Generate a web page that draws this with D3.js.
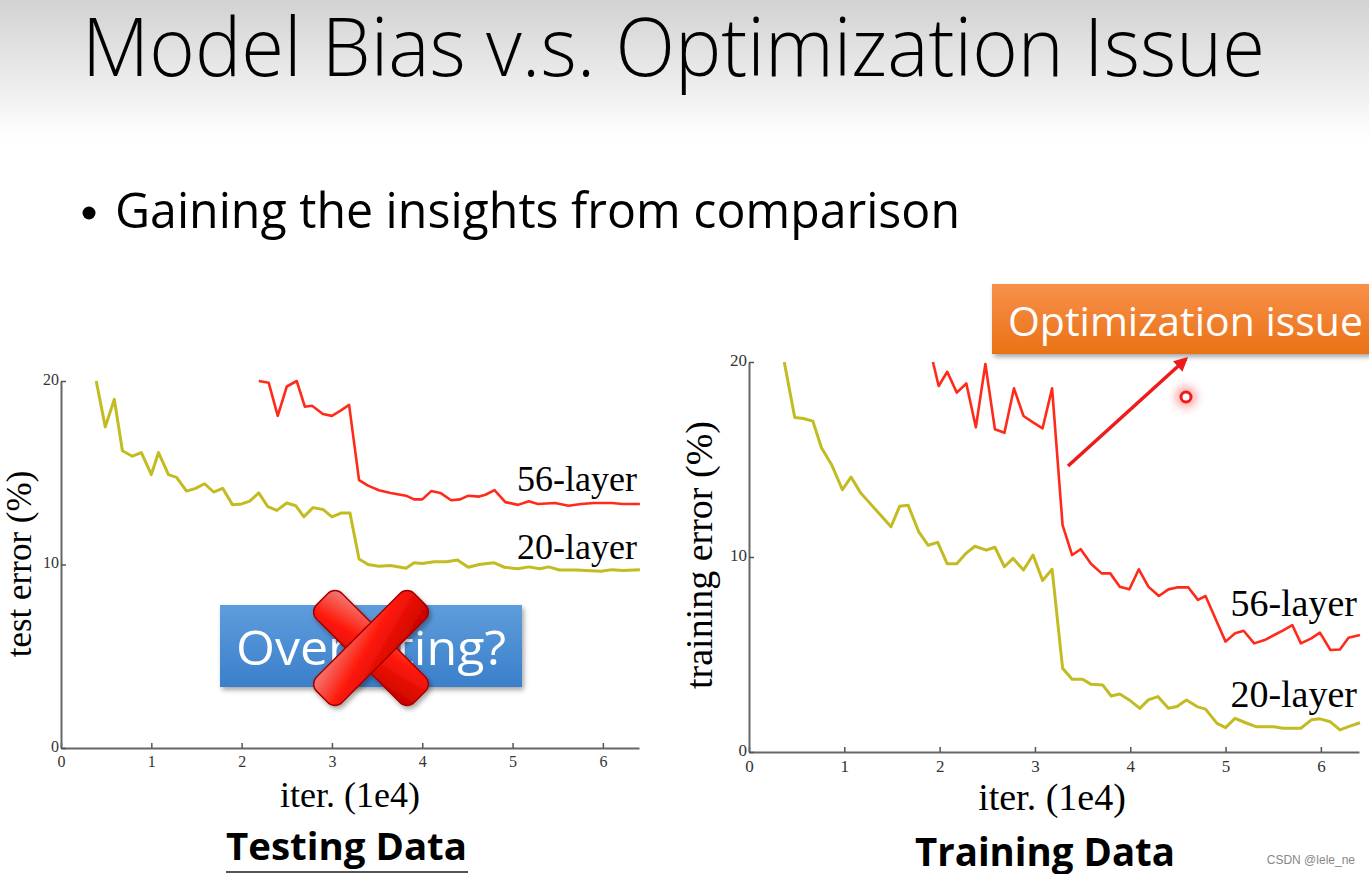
<!DOCTYPE html>
<html>
<head>
<meta charset="utf-8">
<script src="https://cdn.jsdelivr.net/npm/d3@7"></script>
<style>
  html, body { margin: 0; padding: 0; background: #fff; }
  svg { display: block; }
</style>
</head>
<body>
<svg id="chart" width="1369" height="874"></svg>
<script>
// ---------------- DATA ----------------
const titleText = "Model Bias v.s. Optimization Issue";
const bulletText = "Gaining the insights from comparison";
const seriesNames = ["56-layer", "20-layer"];
const xTicks = [0, 1, 2, 3, 4, 5, 6];
const yTicks = [0, 10, 20];

// Testing data (test error %), iterations in 1e4
const testIter20 = [0.39,0.49,0.59,0.68,0.79,0.89,1.0,1.08,1.19,1.28,1.39,1.49,1.59,1.69,1.79,1.9,2.0,2.09,2.19,2.29,2.39,2.5,2.6,2.69,2.79,2.9,3.0,3.1,3.2,3.3,3.4,3.52,3.65,3.82,3.91,4.0,4.13,4.27,4.39,4.51,4.63,4.79,4.91,5.06,5.18,5.3,5.4,5.52,5.71,5.86,5.98,6.1,6.22,6.41];
const testErr20 = [20.0,17.5,19.0,16.2,15.9,16.1,14.9,16.1,14.9,14.75,14.0,14.15,14.4,13.95,14.15,13.25,13.3,13.45,13.9,13.15,12.95,13.35,13.2,12.6,13.1,13.0,12.6,12.8,12.8,10.3,10.0,9.9,9.95,9.8,10.1,10.05,10.15,10.15,10.25,9.85,10.0,10.1,9.85,9.77,9.87,9.77,9.87,9.7,9.7,9.66,9.63,9.72,9.67,9.72];
const testIter56 = [2.19,2.3,2.4,2.5,2.61,2.7,2.78,2.9,3.0,3.1,3.19,3.3,3.4,3.52,3.65,3.82,3.91,4.0,4.1,4.2,4.32,4.42,4.51,4.63,4.7,4.8,4.92,5.06,5.18,5.28,5.47,5.62,5.76,5.9,6.1,6.22,6.41];
const testErr56 = [20.0,19.9,18.1,19.7,20.0,18.6,18.65,18.2,18.1,18.4,18.7,14.6,14.3,14.05,13.9,13.75,13.55,13.55,14.0,13.9,13.5,13.55,13.75,13.7,13.8,14.05,13.4,13.25,13.45,13.3,13.35,13.2,13.3,13.35,13.35,13.3,13.3];

// Training data (training error %)
const trainIter20 = [0.37,0.48,0.57,0.67,0.76,0.87,0.98,1.07,1.17,1.27,1.37,1.49,1.58,1.67,1.78,1.88,1.98,2.08,2.18,2.28,2.37,2.49,2.58,2.68,2.77,2.88,2.98,3.08,3.18,3.29,3.39,3.5,3.59,3.71,3.8,3.89,3.99,4.1,4.19,4.29,4.4,4.49,4.59,4.7,4.79,4.91,5.0,5.1,5.21,5.32,5.51,5.6,5.79,5.9,5.99,6.1,6.2,6.29,6.41];
const trainErr20 = [20.0,17.15,17.1,16.97,15.6,14.7,13.45,14.1,13.3,12.75,12.2,11.55,12.6,12.65,11.3,10.6,10.75,9.65,9.65,10.2,10.55,10.35,10.5,9.5,9.93,9.33,10.1,8.8,9.37,4.3,3.73,3.73,3.47,3.44,2.87,2.97,2.67,2.24,2.67,2.84,2.24,2.33,2.67,2.33,2.2,1.47,1.25,1.73,1.5,1.3,1.3,1.22,1.22,1.65,1.7,1.55,1.13,1.3,1.5];
const trainIter56 = [1.93,1.99,2.08,2.18,2.28,2.38,2.48,2.58,2.68,2.78,2.88,2.98,3.08,3.18,3.29,3.39,3.48,3.59,3.7,3.79,3.89,3.99,4.09,4.19,4.3,4.4,4.49,4.61,4.71,4.79,4.9,5.0,5.1,5.19,5.3,5.41,5.51,5.6,5.7,5.79,5.9,5.99,6.1,6.2,6.29,6.41];
const trainErr56 = [20.0,18.77,19.5,18.43,18.9,16.65,19.9,16.55,16.37,18.65,17.23,16.9,16.6,18.65,11.64,10.1,10.4,9.64,9.16,9.16,8.48,8.34,9.37,8.48,8.0,8.34,8.44,8.44,7.8,8.0,6.77,5.66,6.09,6.22,5.57,5.74,6.0,6.22,6.51,5.57,5.83,6.12,5.23,5.26,5.86,6.0];

// ---------------- DRAWING ----------------
const svg = d3.select("#chart");
const defs = svg.append("defs");

const hdr = defs.append("linearGradient").attr("id","hdr").attr("x1",0).attr("y1",0).attr("x2",0).attr("y2",1);
hdr.append("stop").attr("offset","0%").attr("stop-color","#d2d2d2");
hdr.append("stop").attr("offset","100%").attr("stop-color","#ffffff");

const blue = defs.append("linearGradient").attr("id","blueg").attr("x1",0).attr("y1",0).attr("x2",0).attr("y2",1);
blue.append("stop").attr("offset","0%").attr("stop-color","#5e9ddb");
blue.append("stop").attr("offset","100%").attr("stop-color","#3b7fcb");

const orange = defs.append("linearGradient").attr("id","orangeg").attr("x1",0).attr("y1",0).attr("x2",0).attr("y2",1);
orange.append("stop").attr("offset","0%").attr("stop-color","#f7904a");
orange.append("stop").attr("offset","100%").attr("stop-color","#ea7216");

const redg = defs.append("linearGradient").attr("id","redg").attr("x1",0).attr("y1",0).attr("x2",1).attr("y2",1);
redg.append("stop").attr("offset","0%").attr("stop-color","#f2807a");
redg.append("stop").attr("offset","45%").attr("stop-color","#ff1a0a");
redg.append("stop").attr("offset","100%").attr("stop-color","#c40000");

const shadow = defs.append("filter").attr("id","shadow").attr("x","-10%").attr("y","-10%").attr("width","130%").attr("height","140%");
shadow.append("feDropShadow").attr("dx",2).attr("dy",3).attr("stdDeviation",2.5).attr("flood-color","#000").attr("flood-opacity",0.35);

const glow = defs.append("filter").attr("id","glow").attr("x","-150%").attr("y","-150%").attr("width","400%").attr("height","400%");
glow.append("feGaussianBlur").attr("stdDeviation",4);

defs.append("marker").attr("id","arrowhead").attr("viewBox","0 0 10 10").attr("refX",8).attr("refY",5)
  .attr("markerWidth",4).attr("markerHeight",4).attr("orient","auto")
  .append("path").attr("d","M0,0 L10,5 L0,10 z").attr("fill","#ee1b1b");

// background
svg.append("rect").attr("x",0).attr("y",0).attr("width",1369).attr("height",874).attr("fill","#fff");
svg.append("rect").attr("x",0).attr("y",0).attr("width",1369).attr("height",140).attr("fill","url(#hdr)");

// title
svg.append("text").attr("x",82).attr("y",76).text(titleText)
  .attr("font-family","'Open Sans', 'Noto Sans', sans-serif").attr("font-weight",300)
  .attr("font-size",82).attr("fill","#000")
  .attr("textLength",1183).attr("lengthAdjust","spacingAndGlyphs");

// bullet
svg.append("circle").attr("cx",89).attr("cy",213).attr("r",6.5).attr("fill","#000");
svg.append("text").attr("x",115).attr("y",228).text(bulletText)
  .attr("font-family","'Open Sans', 'Noto Sans', sans-serif").attr("font-weight",400)
  .attr("font-size",50).attr("fill","#000")
  .attr("textLength",845).attr("lengthAdjust","spacingAndGlyphs");

const yellow = "#c3bb22";
const red = "#ff2a1a";
const serif = "'Liberation Serif', 'DejaVu Serif', serif";

function drawChart(cfg) {
  const x = d3.scaleLinear().domain([0, 6.4]).range([cfg.x0, cfg.x1]);
  const y = d3.scaleLinear().domain([0, 20]).range([cfg.y0, cfg.y1]);
  const g = svg.append("g");

  const xa = g.append("g").attr("transform",`translate(0,${cfg.y0})`)
    .call(d3.axisBottom(x).tickValues(xTicks).tickFormat(d3.format("d")).tickSizeInner(-5).tickSizeOuter(0).tickPadding(8));
  const ya = g.append("g").attr("transform",`translate(${cfg.x0},0)`)
    .call(d3.axisLeft(y).tickValues(yTicks).tickFormat(d3.format("d")).tickSizeInner(-5).tickSizeOuter(0).tickPadding(2));
  [xa, ya].forEach(a => {
    a.select(".domain").attr("stroke","#666").attr("stroke-width",2);
    a.selectAll(".tick line").attr("stroke","#555").attr("stroke-width",1.5);
    a.selectAll(".tick text").attr("font-family",serif).attr("font-size",cfg.tickFs).attr("fill","#333");
  });
  xa.selectAll(".tick text").attr("dy","0.71em");
  ya.selectAll(".tick text").attr("dy","0.2em");

  const line = d3.line().x(d => x(d[0])).y(d => y(d[1]));
  const s20 = d3.zip(cfg.iter20, cfg.err20);
  const s56 = d3.zip(cfg.iter56, cfg.err56);
  g.append("path").attr("d", line(s20)).attr("fill","none").attr("stroke",yellow).attr("stroke-width",3).attr("stroke-linejoin","round");
  g.append("path").attr("d", line(s56)).attr("fill","none").attr("stroke",red).attr("stroke-width",2.6).attr("stroke-linejoin","round");

  // series labels
  g.append("text").attr("x", cfg.x1 - 2).attr("y", y(cfg.lab56)).attr("text-anchor","end")
    .attr("font-family",serif).attr("font-size",cfg.fs).attr("fill","#000").text(seriesNames[0]);
  g.append("text").attr("x", cfg.x1 - 2).attr("y", y(cfg.lab20)).attr("text-anchor","end")
    .attr("font-family",serif).attr("font-size",cfg.fs).attr("fill","#000").text(seriesNames[1]);

  // axis titles
  g.append("text").attr("x", (cfg.x0 + cfg.x1) / 2 + cfg.xlabDx).attr("y", cfg.xlabY).attr("text-anchor","middle")
    .attr("font-family",serif).attr("font-size",cfg.fs).attr("fill","#000").text("iter. (1e4)");
  g.append("text").attr("transform",`translate(${cfg.ylabX},${cfg.ylabY}) rotate(-90)`).attr("text-anchor","middle")
    .attr("font-family",serif).attr("font-size",cfg.ylabFs).attr("fill","#000").text(cfg.ylab);
  return {x, y};
}

drawChart({x0:61, x1:639, y0:748, y1:381, iter20:testIter20, err20:testErr20, iter56:testIter56, err56:testErr56,
  lab56:14.0, lab20:10.3, fs:36, ylabFs:35, tickFs:16, xlabDx:0, xlabY:807, ylabX:31, ylabY:564, ylab:"test error (%)"});
drawChart({x0:749, x1:1359, y0:752, y1:362, iter20:trainIter20, err20:trainErr20, iter56:trainIter56, err56:trainErr56,
  lab56:7.0, lab20:2.3, fs:38, ylabFs:38, tickFs:17, xlabDx:-2, xlabY:810, ylabX:712, ylabY:555, ylab:"training error (%)"});

// Overfitting box with red X
svg.append("rect").attr("x",220).attr("y",605).attr("width",302).attr("height",82).attr("fill","url(#blueg)").attr("filter","url(#shadow)");
svg.append("text").attr("x",236).attr("y",665).text("Overfitting?")
  .attr("font-family","'Open Sans', 'Noto Sans', sans-serif").attr("font-size",48).attr("fill","#fff")
  .attr("textLength",270).attr("lengthAdjust","spacingAndGlyphs");
const xg = svg.append("g").attr("transform","translate(371,648)").attr("filter","url(#shadow)");
[45, -45].forEach(a => {
  xg.append("rect").attr("x",-69).attr("y",-18).attr("width",138).attr("height",36).attr("rx",10)
    .attr("transform",`rotate(${a})`).attr("fill","url(#redg)").attr("stroke","#a30000").attr("stroke-width",1.5);
});

// Optimization issue box
svg.append("rect").attr("x",992).attr("y",284).attr("width",390).attr("height",70).attr("fill","url(#orangeg)").attr("filter","url(#shadow)");
svg.append("text").attr("x",1008).attr("y",336).text("Optimization issue")
  .attr("font-family","'Open Sans', 'Noto Sans', sans-serif").attr("font-size",40).attr("fill","#fff")
  .attr("textLength",355).attr("lengthAdjust","spacingAndGlyphs");

// arrow
svg.append("line").attr("x1",1068).attr("y1",466).attr("x2",1186).attr("y2",359)
  .attr("stroke","#ee1b1b").attr("stroke-width",3.5).attr("marker-end","url(#arrowhead)");

// pointer dot
svg.append("circle").attr("cx",1186).attr("cy",397).attr("r",11).attr("fill","#ff6a6a").attr("opacity",0.55).attr("filter","url(#glow)");
svg.append("circle").attr("cx",1186).attr("cy",397).attr("r",5).attr("fill","#fff").attr("stroke","#ee1b1b").attr("stroke-width",3);

// bottom captions
svg.append("text").attr("x",226).attr("y",860).text("Testing Data")
  .attr("font-family","'Open Sans', 'Noto Sans', sans-serif").attr("font-weight",700)
  .attr("font-size",38).attr("fill","#000").attr("textLength",241).attr("lengthAdjust","spacingAndGlyphs");
svg.append("line").attr("x1",226).attr("x2",468).attr("y1",872).attr("y2",872).attr("stroke","#555").attr("stroke-width",2);
svg.append("text").attr("x",915).attr("y",866).text("Training Data")
  .attr("font-family","'Open Sans', 'Noto Sans', sans-serif").attr("font-weight",700)
  .attr("font-size",40).attr("fill","#000").attr("textLength",260).attr("lengthAdjust","spacingAndGlyphs");

svg.append("text").attr("x",1355).attr("y",864).attr("text-anchor","end").text("CSDN @lele_ne")
  .attr("font-family","'Liberation Sans Narrow', 'Liberation Sans', sans-serif").attr("font-size",12).attr("fill","#888");
</script>
</body>
</html>
